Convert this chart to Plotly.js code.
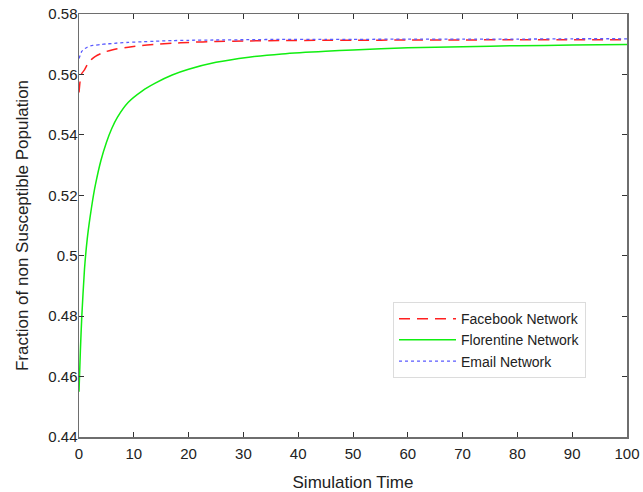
<!DOCTYPE html>
<html>
<head>
<meta charset="utf-8">
<script src="https://cdn.plot.ly/plotly-3.0.1.min.js"></script>
<style>html,body{margin:0;padding:0;background:#fff;}#chart{width:643px;height:492px;}</style>
</head>
<body>
<div id="chart"></div>
<script>
var time = [0, 0.25, 0.5, 1, 1.5, 2, 2.5, 3, 4, 5, 6, 7, 9, 11.5, 14, 17, 20, 25, 31, 37, 45, 50, 60, 70, 80, 90, 100];
var facebook = [0.5540, 0.5585, 0.5603, 0.5615, 0.5632, 0.5645, 0.5653, 0.5660, 0.5669, 0.5676, 0.5681, 0.5685, 0.5690, 0.5696, 0.5700, 0.5703, 0.5706, 0.5709, 0.5711, 0.5712, 0.5713, 0.5713, 0.5714, 0.5714, 0.5715, 0.5715, 0.5715];
var florentine = [0.455, 0.4685, 0.4795, 0.4955, 0.5055, 0.5125, 0.5185, 0.5235, 0.5315, 0.5375, 0.5422, 0.5458, 0.5508, 0.5545, 0.5572, 0.5598, 0.5617, 0.5640, 0.5657, 0.5668, 0.5677, 0.5681, 0.5688, 0.5692, 0.5695, 0.5697, 0.5699];
var email = [0.5653, 0.5665, 0.5676, 0.5685, 0.5690, 0.5694, 0.5696, 0.5697, 0.5699, 0.5701, 0.5702, 0.5704, 0.5706, 0.5708, 0.5710, 0.5712, 0.5713, 0.5714, 0.5715, 0.5716, 0.5716, 0.5716, 0.5717, 0.5717, 0.5717, 0.5718, 0.5718];
var seriesNames = ["Facebook Network", "Florentine Network", "Email Network"];
var xTicks = [0, 10, 20, 30, 40, 50, 60, 70, 80, 90, 100];
var yTickVals = [0.44, 0.46, 0.48, 0.50, 0.52, 0.54, 0.56, 0.58];
var yTickText = ["0.44", "0.46", "0.48", "0.5", "0.52", "0.54", "0.56", "0.58"];

var font = "Liberation Sans, Arial, Helvetica, sans-serif";
var traces = [
  {x: time, y: facebook, name: seriesNames[0], mode: "lines", line: {color: "#ff2020", width: 1.5, dash: "11px,7px", shape: "spline", smoothing: 0.6}},
  {x: time, y: florentine, name: seriesNames[1], mode: "lines", line: {color: "#11ee11", width: 1.5, shape: "spline", smoothing: 0.6}},
  {x: time, y: email, name: seriesNames[2], mode: "lines", line: {color: "#5a5aff", width: 1.3, dash: "dot", shape: "spline", smoothing: 0.6}}
];
var axisCommon = {
  showgrid: false, zeroline: false, showline: true, linecolor: "#6e6e6e", linewidth: 1.5,
  mirror: "ticks", ticks: "inside", ticklen: 5, tickwidth: 1, tickcolor: "#333",
  tickfont: {family: font, size: 15, color: "#222"}
};
var layout = {
  width: 643, height: 492,
  margin: {l: 79, r: 16, t: 14, b: 55},
  paper_bgcolor: "#fff", plot_bgcolor: "#fff",
  showlegend: true,
  xaxis: Object.assign({}, axisCommon, {
    range: [0, 100], tickvals: xTicks, ticktext: xTicks.map(String), ticklabelstandoff: 2,
    title: {text: "Simulation Time", font: {family: font, size: 17, color: "#222"}, standoff: 16}
  }),
  yaxis: Object.assign({}, axisCommon, {
    range: [0.44, 0.58], tickvals: yTickVals, ticktext: yTickText, ticklabelstandoff: -3,
    title: {text: "Fraction of non Susceptible Population", font: {family: font, size: 17, color: "#222"}, standoff: 15}
  }),
  legend: {
    x: 0.573, y: 0.319, xanchor: "left", yanchor: "top",
    bgcolor: "#fff", bordercolor: "#dcdcdc", borderwidth: 1,
    font: {family: font, size: 14, color: "#222"},
    itemwidth: 57, tracegroupgap: 0
  }
};
Plotly.newPlot("chart", traces, layout, {displayModeBar: false, staticPlot: true});
</script>
</body>
</html>
